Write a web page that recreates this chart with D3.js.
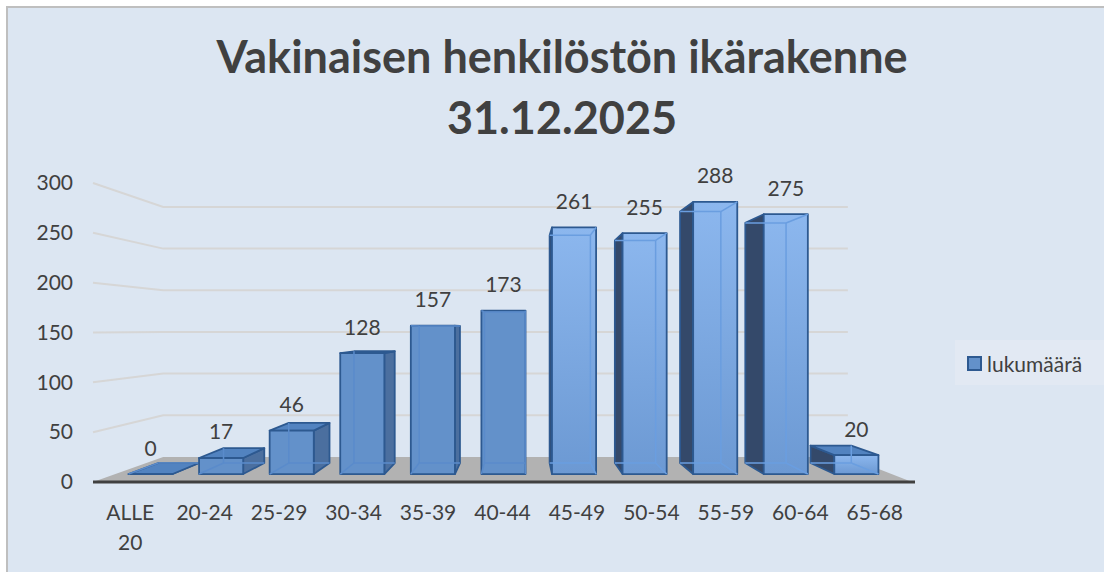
<!DOCTYPE html>
<html>
<head>
<meta charset="utf-8">
<script src="https://d3js.org/d3.v7.min.js"></script>
<style>
  body { margin: 0; background: #ffffff; }
  text { font-family: Lato, "Open Sans", sans-serif; fill: #404040; }
</style>
</head>
<body>
<div id="chart"></div>
<script>
// data
const categories = ["ALLE 20", "20-24", "25-29", "30-34", "35-39", "40-44", "45-49", "50-54", "55-59", "60-64", "65-68"];
const values = [0, 17, 46, 128, 157, 173, 261, 255, 288, 275, 20];
const yTicks = [0, 50, 100, 150, 200, 250, 300];
const seriesName = "lukumäärä";
const titleLines = ["Vakinaisen henkilöstön ikärakenne", "31.12.2025"];

const width = 1104;
const height = 572;

const svg = d3.select("#chart")
    .append("svg")
    .attr("width", width)
    .attr("height", height);

// chart background + border (only top/left are inside the picture)
svg.append("rect")
    .attr("x", 7).attr("y", 7)
    .attr("width", width).attr("height", height)
    .attr("fill", "#dce6f2");
svg.append("path")
    .attr("d", `M7,${height}L7,7L${width},7`)
    .attr("fill", "none")
    .attr("stroke", "#bfbfbf")
    .attr("stroke-width", 2);

// front plane scales
const x = d3.scaleBand()
    .domain(categories)
    .range([93, 912]);

const y = d3.scaleLinear()
    .domain([0, 300])
    .range([482, 183]);

// simple one-point perspective
const cx = 521, cy = 329;
const sWall = 0.836;   // back wall depth
const sF = 0.948;      // bar front
const sB = 0.876;      // bar back
const P = (px, py, s) => [cx + (px - cx) * s, cy + (py - cy) * s];
const poly = pts => "M" + pts.map(p => p.join(",")).join("L") + "Z";
const line = (a, b) => "M" + a.join(",") + "L" + b.join(",");

// gridlines on side + back wall
const x0 = x.range()[0], x1 = x.range()[1];
svg.append("g")
    .selectAll("path")
    .data(yTicks.filter(v => v > 0))
    .enter()
    .append("path")
    .attr("d", v => "M" + P(x0, y(v), 1).join(",") + "L" + P(x0, y(v), sWall).join(",") + "L" + P(x1, y(v), sWall).join(","))
    .attr("fill", "none")
    .attr("stroke", "#d6d6d6")
    .attr("stroke-width", 2);

// floor
svg.append("path")
    .attr("d", poly([P(x0, y(0), 1), P(x1, y(0), 1), P(x1, y(0), sWall), P(x0, y(0), sWall)]))
    .attr("fill", "#b2b2b2");

svg.append("line")
    .attr("x1", x0).attr("x2", x1 + 3)
    .attr("y1", y(0)).attr("y2", y(0))
    .attr("stroke", "#404040")
    .attr("stroke-width", 3);

// Y axis
const yAxis = svg.append("g")
    .attr("transform", `translate(${x0},0)`)
    .call(d3.axisLeft(y).tickValues(yTicks).tickSize(0).tickPadding(20));
yAxis.select(".domain").remove();
yAxis.selectAll("text")
    .style("font-family", "Lato, sans-serif")
    .style("font-size", "21px")
    .attr("fill", "#404040");

// X axis
const xAxis = svg.append("g")
    .attr("transform", `translate(0,${y(0)})`)
    .call(d3.axisBottom(x).tickSize(0));
xAxis.select(".domain").remove();
xAxis.selectAll("text")
    .style("font-family", "Lato, sans-serif")
    .style("font-size", "21px")
    .attr("fill", "#404040")
    .attr("y", 0)
    .attr("dy", null)
    .each(function(d) {
        const t = d3.select(this);
        t.text(null);
        d.split(" ").forEach((w, i) => {
            t.append("tspan").attr("x", 0).attr("y", 37.5 + i * 30).text(w);
        });
    });

// gradient for lit front faces
const defs = svg.append("defs");
const grad = defs.append("linearGradient")
    .attr("id", "lit")
    .attr("x1", 0).attr("y1", 0).attr("x2", 0).attr("y2", 1);
grad.append("stop").attr("offset", "0%").attr("stop-color", "#8cb7ee");
grad.append("stop").attr("offset", "100%").attr("stop-color", "#6c99d3");

// bars as translucent boxes
const barW = x.bandwidth() * 0.625;
const bars = svg.append("g");

categories.forEach((c, i) => {
    const xl = x(c) + (x.bandwidth() - barW) / 2;
    const xr = xl + barW;
    const y0 = y(0);
    const yt = y(values[i]);
    const C = (X, Y, Z) => P(X === "l" ? xl : xr, Y === "b" ? y0 : yt, Z === "f" ? sF : sB);

    const vis = { F: true, B: false, D: false, L: xl > cx, R: xr < cx, T: yt > cy };
    const g = bars.append("g");

    const face = (pts, fill) => g.append("path")
        .attr("d", poly(pts))
        .attr("fill", fill)
        .attr("stroke", "#2d5990")
        .attr("stroke-width", 1.8)
        .attr("stroke-linejoin", "round");

    if (vis.L) face([C("l","b","f"), C("l","t","f"), C("l","t","k"), C("l","b","k")], "#34496a");
    if (vis.R) face([C("r","b","f"), C("r","t","f"), C("r","t","k"), C("r","b","k")], "#4b6f9f");
    if (vis.T) face([C("l","t","f"), C("r","t","f"), C("r","t","k"), C("l","t","k")], "#5283c0");
    face([C("l","b","f"), C("r","b","f"), C("r","t","f"), C("l","t","f")], vis.L ? "url(#lit)" : "#6391ca");

    // see-through edges
    const edges = [
        ["B","L", C("l","b","k"), C("l","t","k")],
        ["B","R", C("r","b","k"), C("r","t","k")],
        ["B","T", C("l","t","k"), C("r","t","k")],
        ["B","D", C("l","b","k"), C("r","b","k")],
        ["L","T", C("l","t","f"), C("l","t","k")],
        ["L","D", C("l","b","f"), C("l","b","k")],
        ["R","T", C("r","t","f"), C("r","t","k")],
        ["R","D", C("r","b","f"), C("r","b","k")]
    ];
    edges.filter(e => !vis[e[0]] && !vis[e[1]]).forEach(e => {
        g.append("path")
            .attr("d", line(e[2], e[3]))
            .attr("stroke", vis.L ? "#6a9ee0" : "#5a8bcb")
            .attr("stroke-width", 1.5)
            .attr("fill", "none");
    });
});

// data labels
svg.append("g")
    .selectAll("text")
    .data(categories)
    .enter()
    .append("text")
    .attr("x", (c) => P(x(c) + x.bandwidth() / 2, 0, sF)[0])
    .attr("y", (c, i) => P(0, y(values[i]), sF)[1] - 18.5)
    .attr("text-anchor", "middle")
    .style("font-size", "21px")
    .text((c, i) => values[i]);

// title
svg.append("g")
    .selectAll("text")
    .data(titleLines)
    .enter()
    .append("text")
    .attr("x", 562)
    .attr("y", (d, i) => 73 + i * 61)
    .attr("text-anchor", "middle")
    .style("font-size", "45px")
    .style("font-weight", "bold")
    .text(d => d);

// legend
const legend = svg.append("g");
legend.append("rect")
    .attr("x", 955).attr("y", 340)
    .attr("width", 149).attr("height", 45)
    .attr("fill", "#e2e9f3");
legend.append("rect")
    .attr("x", 968).attr("y", 357)
    .attr("width", 13).attr("height", 13)
    .attr("fill", "#6391ca")
    .attr("stroke", "#2d5990")
    .attr("stroke-width", 2);
legend.append("text")
    .attr("x", 987).attr("y", 371.5)
    .style("font-size", "21px")
    .text(seriesName);
</script>
</body>
</html>
